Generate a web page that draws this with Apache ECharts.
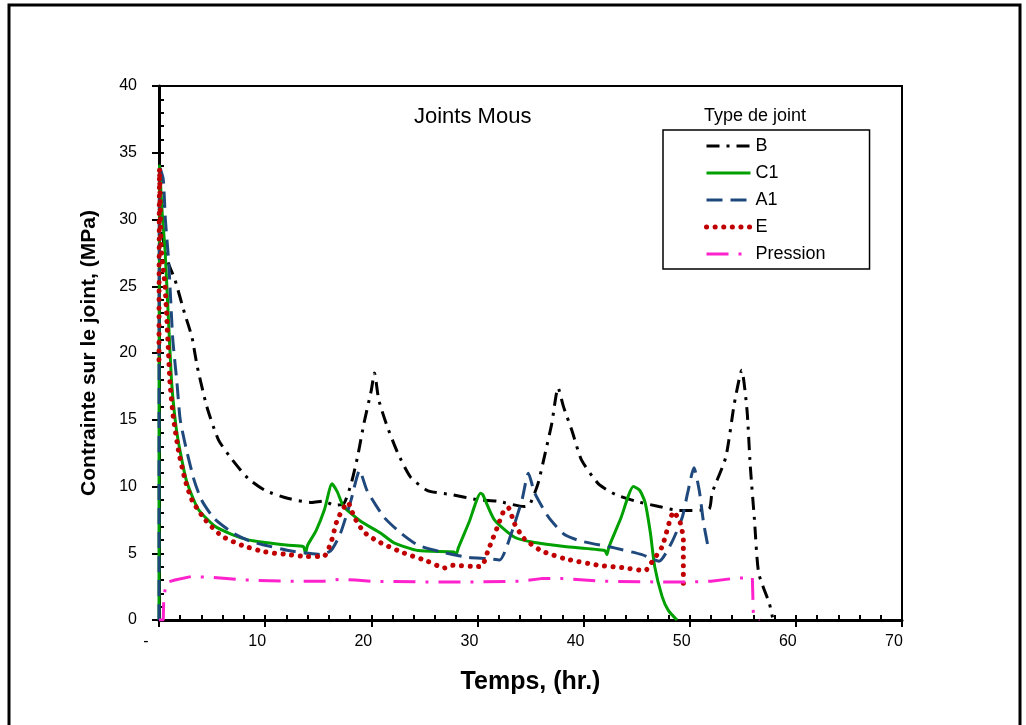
<!DOCTYPE html>
<html>
<head>
<meta charset="utf-8">
<script src="https://cdn.jsdelivr.net/npm/echarts@6/dist/echarts.min.js"></script>
<style>
html,body{margin:0;padding:0;background:#fff;}
#chart{width:1026px;height:725px;}
</style>
</head>
<body>
<div id="chart"></div>
<script>
// ---- data (time in hr, stress in MPa) ----
const B_t = [0.25, 0.9, 1.5, 2.4, 3.1, 3.6, 4.5, 5.6, 6.9, 8.4, 10.0, 12.2, 14.4, 15.5, 16.5, 17.4, 18.1, 18.7, 19.3, 20.0, 20.3, 20.7, 21.5, 22.5, 23.7, 25.3, 27.5, 30.1, 31.9, 34.4, 34.9, 35.7, 36.3, 37.0, 37.6, 38.1, 38.9, 39.8, 41.4, 43.0, 44.9, 47.1, 49.0, 51.8, 52.1, 53.4, 54.2, 54.9, 55.4, 55.7, 56.1, 56.5, 57.5, 57.8];
const B_v = [29, 26.7, 25.5, 23, 21.2, 19, 16, 13.5, 12, 10.6, 9.7, 9.1, 8.8, 8.9, 8.6, 8.7, 10.2, 12.2, 14.7, 17.2, 18.5, 16.5, 14.5, 12.5, 10.7, 9.7, 9.4, 9.0, 8.9, 8.5, 8.6, 10.2, 12.2, 14.7, 17.4, 16.0, 14.2, 12.0, 10.2, 9.4, 8.9, 8.5, 8.2, 8.3, 9.5, 12.2, 16.2, 18.7, 15.7, 11.6, 7.5, 3.5, 1.25, 0.2];

const C1_t = [0, 0.05, 0.3, 0.57, 0.88, 1.2, 1.6, 2.0, 2.6, 3.7, 5.3, 6.9, 8.4, 10, 12.2, 13.6, 13.8, 14.0, 14.8, 15.6, 16.3, 16.8, 17.4, 19.0, 20.9, 22.1, 24.4, 27.8, 28.0, 28.2, 29.2, 30.3, 30.5, 31.6, 33.5, 35.4, 38.2, 42.0, 42.2, 42.4, 43.5, 44.7, 45.3, 45.8, 46.3, 46.7, 47.4, 48.0, 48.8];
const C1_v = [0, 34, 30.5, 27.7, 22.7, 17.7, 14.5, 12.6, 10.4, 8.3, 7.0, 6.4, 6.0, 5.8, 5.6, 5.5, 5.0, 5.6, 6.7, 8.3, 10.2, 9.6, 8.5, 7.4, 6.5, 5.8, 5.2, 5.1, 4.9, 5.4, 7.3, 9.5, 9.4, 7.5, 6.2, 5.8, 5.5, 5.2, 4.9, 5.5, 7.6, 10.0, 9.7, 8.8, 6.5, 4.0, 1.75, 0.7, 0];

const A1_t = [0, 0.05, 0.4, 0.6, 0.9, 1.1, 1.3, 1.7, 2.0, 2.6, 3.3, 4.0, 5.2, 7.0, 8.6, 10, 12.2, 14.0, 15.2, 16.2, 17.1, 18.1, 18.9, 19.6, 21.2, 22.8, 24.4, 26.6, 29.1, 31.0, 32.1, 33.2, 34.2, 34.8, 35.4, 36.7, 38.2, 39.8, 42.9, 45.5, 47.1, 48.3, 49.3, 49.8, 50.4, 50.9, 51.3, 51.7];
const A1_v = [0, 34, 33, 30, 27, 24, 21, 17.7, 15, 12.7, 10.5, 9.0, 7.6, 6.5, 5.9, 5.6, 5.2, 5.0, 4.9, 5.2, 6.5, 9, 11.2, 9.7, 7.7, 6.5, 5.6, 5.1, 4.7, 4.6, 4.5, 6.5, 9, 11.0, 9.5, 7.7, 6.4, 5.9, 5.4, 4.9, 4.4, 5.8, 7.7, 9.5, 11.4, 9.7, 7.3, 5.6];

const E_t = [0, 0.05, 0.2, 0.41, 0.57, 0.73, 0.88, 1.04, 1.35, 1.83, 2.46, 3.1, 4.35, 5.9, 7.8, 10, 12.2, 14, 15.5, 16.2, 16.8, 17.8, 18.4, 19.3, 20.6, 22.8, 25.3, 26.9, 27.5, 30.1, 30.5, 31.0, 31.9, 32.5, 32.9, 33.5, 34.4, 36.0, 38.2, 41.4, 43.9, 45.8, 46.4, 47.4, 48.5, 49.1, 49.4, 49.4];
const E_v = [19.5, 33.8, 28, 26.2, 25, 22.7, 20.2, 17.7, 15.2, 12.7, 10.5, 9, 7.5, 6.3, 5.6, 5.1, 4.9, 4.75, 4.75, 5.8, 7.5, 8.8, 7.7, 6.6, 5.9, 5.1, 4.4, 3.9, 4.1, 4.0, 4.1, 5.2, 7.0, 8.2, 8.4, 7.2, 6.1, 5.2, 4.6, 4.1, 3.9, 3.7, 4.3, 5.5, 8.1, 7.3, 6.0, 2.4];

const P_t = [0, 0.4, 0.45, 0.7, 1.5, 3.0, 5.0, 8.0, 12, 15.5, 17.0, 18.5, 20, 25, 30, 34, 36, 38, 42, 47, 50, 52, 54, 55.9, 56.0, 56.6];
const P_v = [0, 0, 1.7, 2.8, 3.0, 3.25, 3.2, 3.0, 2.9, 2.9, 3.05, 3.0, 2.9, 2.85, 2.85, 2.9, 3.1, 3.1, 2.9, 2.85, 2.85, 2.9, 3.1, 3.2, 0.3, 0];

const seriesNames = ['B', 'C1', 'A1', 'E', 'Pression'];
const xTickStep = 10, xMinorStep = 2, yTickStep = 5, yMinorStep = 1;

function zip(t, v) { return t.map((x, i) => [x, v[i]]); }

const FONT = "'Liberation Sans', Arial, sans-serif";
const chart = echarts.init(document.getElementById('chart'), null, {renderer: 'canvas'});

const styles = {
  'B':        {color: '#000000', width: 3, type: [13, 7, 3, 7], smooth: 0.2},
  'C1':       {color: '#00A000', width: 3, type: 'solid', smooth: 0.2},
  'A1':       {color: '#1F497D', width: 3, type: [16, 8], smooth: 0.2},
  'E':        {color: '#C00000', width: 5, type: [0.1, 8.5], cap: 'round', smooth: 0.2},
  'Pression': {color: '#FF22CC', width: 3, type: [22, 10, 3, 10], smooth: false}
};
const dataMap = {
  'B': zip(B_t, B_v), 'C1': zip(C1_t, C1_v), 'A1': zip(A1_t, A1_v),
  'E': zip(E_t, E_v), 'Pression': zip(P_t, P_v)
};

const option = {
  animation: false,
  backgroundColor: '#fff',
  textStyle: {fontFamily: FONT},
  graphic: [{
    type: 'rect', z: 100, silent: true,
    shape: {x: 9, y: 5, width: 1011, height: 740},
    style: {fill: 'none', stroke: '#000', lineWidth: 3}
  }],
  title: [
    {text: 'Joints Mous', left: 414, top: 106, padding: 0,
     textStyle: {fontFamily: FONT, fontSize: 22, fontWeight: 'normal', color: '#000'}},
    {text: 'Type de joint', left: 704, top: 107, padding: 0,
     textStyle: {fontFamily: FONT, fontSize: 18, fontWeight: 'normal', color: '#000'}}
  ],
  legend: {
    orient: 'vertical', left: 663, top: 130,
    padding: [7, 44, 6, 41],
    itemWidth: 44, itemHeight: 14, itemGap: 9,
    borderColor: '#000', borderWidth: 1.5,
    itemStyle: {opacity: 0},
    textStyle: {fontFamily: FONT, fontSize: 18, color: '#000'},
    data: seriesNames.map(n => ({
      name: n,
      lineStyle: {width: styles[n].width, type: styles[n].type, cap: styles[n].cap || 'butt', color: styles[n].color}
    }))
  },
  grid: {left: 159, top: 86, right: 124, bottom: 105, show: true, borderColor: '#000', borderWidth: 2},
  xAxis: [{
    type: 'value', min: 0, max: 70, interval: xTickStep,
    name: 'Temps, (hr.)', nameLocation: 'middle', nameGap: 50,
    nameTextStyle: {fontFamily: FONT, fontSize: 25, fontWeight: 'bold', color: '#000'},
    axisLine: {show: true, onZero: false, lineStyle: {color: '#000', width: 3}},
    axisTick: {show: true, inside: false, length: 7, lineStyle: {color: '#000', width: 2}},
    axisLabel: {
      fontFamily: FONT, fontSize: 16, color: '#000', margin: 14,
      formatter: v => v === 0 ? '{z|-}' : '{n|' + v + '}',
      rich: {z: {fontSize: 16, padding: [0, 26, 0, 0]}, n: {fontSize: 16, padding: [0, 16, 0, 0]}}
    },
    splitLine: {show: false}
  }, {
    type: 'value', min: 0, max: 70, interval: xMinorStep, position: 'bottom',
    axisLine: {show: false}, axisLabel: {show: false}, splitLine: {show: false},
    axisTick: {show: true, inside: true, length: 5, lineStyle: {color: '#000', width: 2}}
  }],
  yAxis: [{
    type: 'value', min: 0, max: 40, interval: yTickStep,
    name: 'Contrainte sur le joint, (MPa)', nameLocation: 'middle', nameGap: 59,
    nameTextStyle: {fontFamily: FONT, fontSize: 21, fontWeight: 'bold', color: '#000'},
    axisLine: {show: true, onZero: false, lineStyle: {color: '#000', width: 3}},
    axisTick: {show: true, inside: false, length: 7, lineStyle: {color: '#000', width: 2}},
    axisLabel: {fontFamily: FONT, fontSize: 16, color: '#000', margin: 22},
    splitLine: {show: false}
  }, {
    type: 'value', min: 0, max: 40, interval: yMinorStep, position: 'left',
    axisLine: {show: false}, axisLabel: {show: false}, splitLine: {show: false},
    axisTick: {show: true, inside: true, length: 5, lineStyle: {color: '#000', width: 2}}
  }],
  series: seriesNames.map(n => ({
    name: n, type: 'line', xAxisIndex: 0, yAxisIndex: 0,
    data: dataMap[n], showSymbol: false, symbol: 'none', smooth: styles[n].smooth,
    lineStyle: {color: styles[n].color, width: styles[n].width, type: styles[n].type, cap: styles[n].cap || 'butt'},
    itemStyle: {color: styles[n].color}
  }))
};
chart.setOption(option);
</script>
</body>
</html>
